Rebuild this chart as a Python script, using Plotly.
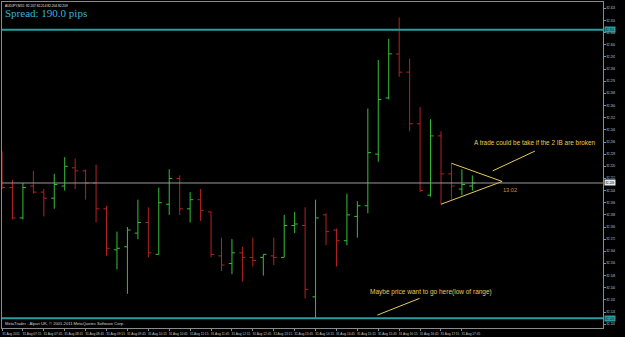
import plotly.graph_objects as go

# ---------------- data ----------------
bar_index = list(range(46))
opens  = [82.215, 82.206, 82.186, 82.207, 82.203, 82.199, 82.207, 82.219, 82.217, 82.209,
          82.192, 82.165, 82.167, 82.176, 82.183, 82.162, 82.195, 82.212, 82.192, 82.198,
          82.190, 82.161, 82.156, 82.163, 82.160, 82.160, 82.161, 82.160, 82.181, 82.181,
          82.134, 82.188, 82.178, 82.171, 82.187, 82.194, 82.228, 82.265, 82.294, 82.282,
          82.248, 82.201, 82.240, 82.215, 82.205, 82.207]
highs  = [82.230, 82.211, 82.209, 82.217, 82.205, 82.215, 82.226, 82.225, 82.218, 82.221,
          82.194, 82.177, 82.180, 82.198, 82.193, 82.206, 82.218, 82.214, 82.203, 82.205,
          82.190, 82.173, 82.172, 82.167, 82.173, 82.162, 82.173, 82.188, 82.190, 82.193,
          82.198, 82.189, 82.179, 82.202, 82.197, 82.258, 82.290, 82.304, 82.318, 82.291,
          82.259, 82.251, 82.243, 82.222, 82.218, 82.214]
lows   = [82.205, 82.185, 82.185, 82.202, 82.187, 82.192, 82.204, 82.205, 82.198, 82.183,
          82.161, 82.152, 82.136, 82.172, 82.160, 82.162, 82.188, 82.188, 82.183, 82.184,
          82.160, 82.151, 82.149, 82.144, 82.154, 82.148, 82.155, 82.160, 82.176, 82.133,
          82.120, 82.168, 82.154, 82.168, 82.173, 82.189, 82.223, 82.264, 82.279, 82.243,
          82.203, 82.200, 82.195, 82.198, 82.201, 82.204]
closes = [82.206, 82.186, 82.206, 82.203, 82.199, 82.208, 82.220, 82.217, 82.209, 82.192,
          82.166, 82.166, 82.178, 82.183, 82.163, 82.196, 82.212, 82.192, 82.198, 82.191,
          82.162, 82.155, 82.163, 82.160, 82.158, 82.162, 82.160, 82.181, 82.182, 82.139,
          82.186, 82.177, 82.171, 82.188, 82.194, 82.229, 82.264, 82.294, 82.282, 82.248,
          82.204, 82.240, 82.215, 82.207, 82.208, 82.209]

range_high = 82.310
range_low = 82.120
current_price = 82.209

# x tick labels (every 2 bars, M15)
x_tick_bars = list(range(0, 46, 2))
x_tick_labels = ["31 Aug 2011", "31 Aug 07:15", "31 Aug 07:45", "31 Aug 08:15", "31 Aug 08:45",
                 "31 Aug 09:15", "31 Aug 09:45", "31 Aug 10:15", "31 Aug 10:45", "31 Aug 11:15",
                 "31 Aug 11:45", "31 Aug 12:15", "31 Aug 12:45", "31 Aug 13:15", "31 Aug 13:45",
                 "31 Aug 14:15", "31 Aug 14:45", "31 Aug 15:15", "31 Aug 15:45", "31 Aug 16:15",
                 "31 Aug 16:45", "31 Aug 17:15", "31 Aug 17:45"]
y_tick_values = [round(82.324 - 0.008 * i, 3) for i in range(27)]
y_tick_labels = ["%.3f" % v for v in y_tick_values]

# drawn objects (bar index, price)
triangle_x = [43.0, 47.85, 42.0]
triangle_y = [82.222, 82.210, 82.195]
upper_arrow_x = [46.95, 50.98]
upper_arrow_y = [82.217, 82.230]
lower_arrow_x = [35.91, 39.95]
lower_arrow_y = [82.122, 82.133]

upper_text = "A trade could be take if the 2 IB are broken"
upper_text_pos = (44.98, 82.236)
lower_text = "Maybe price want to go here(low of range)"
lower_text_pos = (35.05, 82.137)
timer_text = "13:02"
timer_pos = (47.7, 82.2045)

# ---------------- styles ----------------
GREEN = "#36bf36"
RED = "#b42222"
YELLOW = "#e4cc5c"
CYAN = "#2a9e9e"
GRID = "#8a8a8a"

up = [i for i in bar_index if closes[i] > opens[i]]
dn = [i for i in bar_index if closes[i] <= opens[i]]

fig = go.Figure()
for idx, col in ((up, GREEN), (dn, RED)):
    fig.add_trace(go.Ohlc(
        x=[bar_index[i] for i in idx],
        open=[opens[i] for i in idx], high=[highs[i] for i in idx],
        low=[lows[i] for i in idx], close=[closes[i] for i in idx],
        increasing=dict(line=dict(color=col, width=1)),
        decreasing=dict(line=dict(color=col, width=1)),
        tickwidth=0.3, hoverinfo="skip", showlegend=False))

fig.add_trace(go.Scatter(x=triangle_x, y=triangle_y, mode="lines",
                         line=dict(color=YELLOW, width=1), showlegend=False, hoverinfo="skip"))
for xs, ys in ((upper_arrow_x, upper_arrow_y), (lower_arrow_x, lower_arrow_y)):
    fig.add_trace(go.Scatter(x=xs, y=ys, mode="lines",
                             line=dict(color=YELLOW, width=1), showlegend=False, hoverinfo="skip"))

# horizontal lines
fig.add_shape(type="line", xref="paper", x0=0, x1=1, yref="y", y0=current_price, y1=current_price,
              line=dict(color="#9a9a9a", width=1))
for v in (range_high, range_low):
    fig.add_shape(type="line", xref="paper", x0=0, x1=1, yref="y", y0=v, y1=v,
                  line=dict(color=CYAN, width=2))

# text annotations
anns = [
    dict(x=upper_text_pos[0], y=upper_text_pos[1], text=upper_text, xref="x", yref="y",
         xanchor="left", yanchor="middle", showarrow=False,
         font=dict(family="Arial", size=6.4, color=YELLOW)),
    dict(x=lower_text_pos[0], y=lower_text_pos[1], text=lower_text, xref="x", yref="y",
         xanchor="left", yanchor="middle", showarrow=False,
         font=dict(family="Arial", size=6.5, color=YELLOW)),
    dict(x=timer_pos[0], y=timer_pos[1], text=timer_text, xref="x", yref="y",
         xanchor="left", yanchor="middle", showarrow=False,
         font=dict(family="Arial", size=5.6, color="#d88a3a")),
    dict(x=0, y=1, xref="paper", yref="paper", xanchor="left", yanchor="top",
         text="Spread: 190.0 pips", showarrow=False, xshift=1, yshift=-3,
         font=dict(family="Liberation Serif", size=11, color="#3fb0dc")),
    dict(x=0, y=1, xref="paper", yref="paper", xanchor="left", yanchor="top",
         text="AUDJPY,M15  82.207 82.214 82.204 82.209", showarrow=False, xshift=1, yshift=0,
         font=dict(family="Arial", size=3.2, color="#e0e0e0")),
    dict(x=0, y=0, xref="paper", yref="paper", xanchor="left", yanchor="bottom",
         text="MetaTrader - Alpari UK, \u00a9 2001-2011 MetaQuotes Software Corp.", showarrow=False,
         xshift=1, yshift=0, font=dict(family="Arial", size=4.1, color="#d0d0d0")),
]
for v, bg, fg in ((range_high, CYAN, "#101010"), (current_price, "#e8e8e8", "#000000"),
                  (range_low, CYAN, "#101010")):
    anns.append(dict(x=1, y=v, xref="paper", yref="y", xanchor="left", yanchor="middle",
                     text="%.3f" % v, showarrow=False, xshift=1, bgcolor=bg, borderpad=0.5,
                     font=dict(family="Arial", size=2.8, color=fg)))

fig.update_layout(
    width=625, height=337,
    margin=dict(l=1, r=22, t=1, b=6),
    paper_bgcolor="black", plot_bgcolor="black",
    annotations=anns,
    showlegend=False,
    xaxis=dict(range=[0.0, 57.5], rangeslider=dict(visible=False),
               tickmode="array", tickvals=x_tick_bars, ticktext=x_tick_labels,
               tickangle=0, ticklabelshift=9, ticks="outside", ticklen=2, tickcolor=GRID,
               tickfont=dict(family="Arial", size=3.2, color="#c8c8c8"),
               showgrid=False, zeroline=False, showline=True, linecolor=GRID, linewidth=1,
               mirror=True, fixedrange=True),
    yaxis=dict(range=[82.1135, 82.3282], side="right",
               tickmode="array", tickvals=y_tick_values, ticktext=y_tick_labels,
               ticks="outside", ticklen=2, tickcolor=GRID,
               tickfont=dict(family="Arial", size=2.8, color="#c8c8c8"),
               showgrid=False, zeroline=False, showline=True, linecolor=GRID, linewidth=1,
               mirror=True, fixedrange=True),
)

fig.write_html("out.html")
